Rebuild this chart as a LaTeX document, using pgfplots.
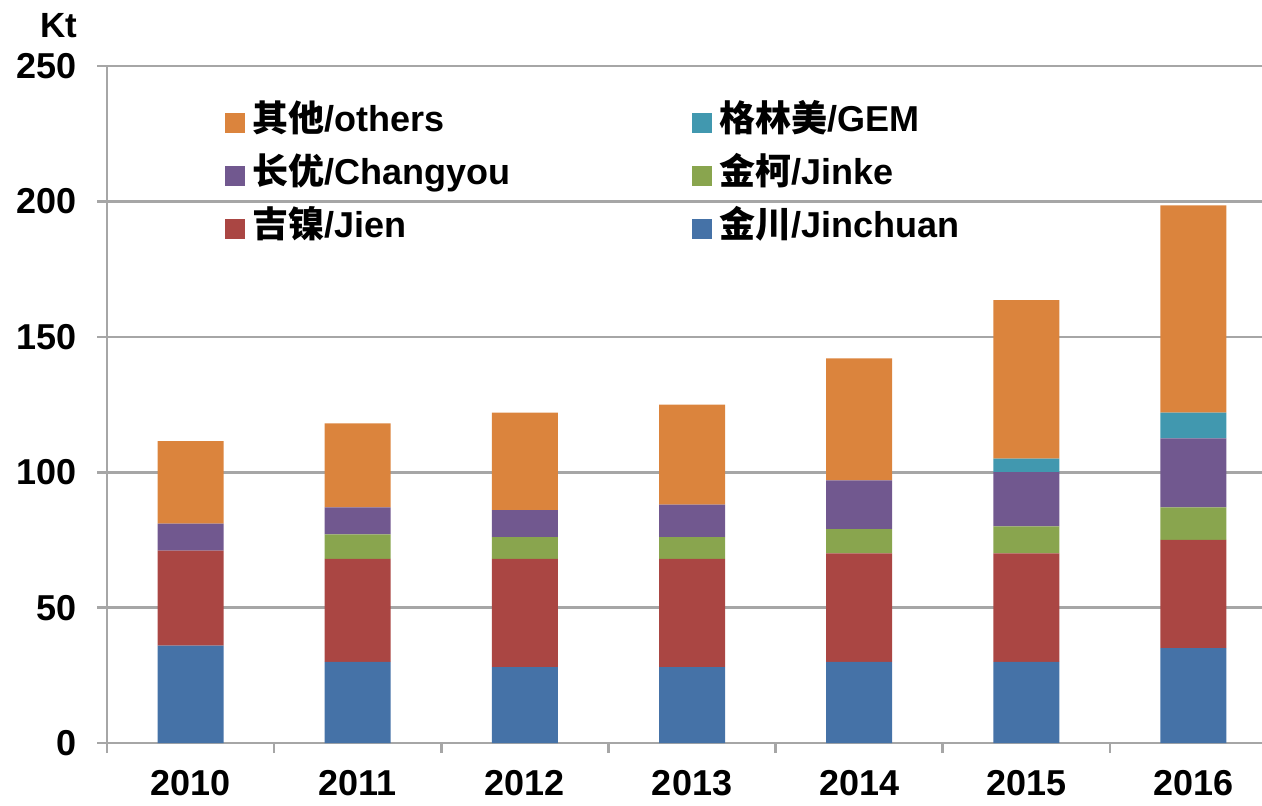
\documentclass[border=0pt]{standalone}
\usepackage{fontspec}
\setmainfont{Liberation Sans}
\newfontfamily\cjk{Noto Sans CJK SC}
\usepackage{pgfplots}
\usepackage{pgfplotstable}
\pgfplotsset{compat=1.18}

\definecolor{cJinchuan}{HTML}{4572A7}
\definecolor{cJien}{HTML}{AA4643}
\definecolor{cJinke}{HTML}{89A54E}
\definecolor{cChangyou}{HTML}{71588F}
\definecolor{cGEM}{HTML}{4198AF}
\definecolor{cOthers}{HTML}{DB843D}
\definecolor{gridgray}{HTML}{A6A6A6}

% Kt, by producer and year
\pgfplotstableread{
x  jinchuan jien jinke changyou gem  others
0  36       35   0     10       0    30.5
1  30       38   9     10       0    31
2  28       40   8     10       0    36
3  28       40   8     12       0    37
4  30       40   9     18       0    45
5  30       40   10    20       5    58.5
6  35       40   12    25.5     9.5  76.5
}\prod

\newcommand{\lgd}[2]{\makebox[219.5pt][l]{{\cjk\bfseries #1}\bfseries/#2}}

\begin{document}
\begin{tikzpicture}
\path[use as bounding box] (0,0) rectangle (631pt,402.5pt);
\begin{axis}[
    at={(53.5pt,31pt)}, anchor=south west,
    scale only axis, width=577.5pt, height=338.5pt,
    ybar stacked, bar width=33pt,
    xmin=-0.5, xmax=6.41, ymin=0, ymax=250,
    axis x line*=bottom, axis y line*=left,
    axis line style={gridgray, line width=1.3pt},
    ymajorgrids, grid style={gridgray, line width=1.3pt},
    ytick={0,50,...,250},
    xtick={0,...,6},
    xticklabels={2010,2011,2012,2013,2014,2015,2016},
    minor xtick={-0.5,0.5,...,5.5},
    tick align=outside,
    major x tick style={draw=none},
    minor tick length=5pt, major tick length=5pt,
    every tick/.style={gridgray, line width=1.3pt},
    tick label style={font=\fontsize{18}{20}\selectfont\bfseries, black},
    /pgf/number format/assume math mode=true,
    xticklabel style={yshift=-5pt},
    yticklabel style={xshift=-6.5pt},
    ylabel={\fontsize{17.5}{20}\selectfont\bfseries Kt},
    ylabel style={rotate=-90, at={(rel axis cs:0,1)}, anchor=base east, xshift=-11.5pt, yshift=14.5pt},
    legend columns=2,
    reverse legend,
    legend style={draw=none, fill=none, inner sep=0pt, outer sep=0pt,
        at={(0.102,0.942)}, anchor=north west,
        font=\fontsize{18}{20}\selectfont,
        nodes={inner sep=0pt, text height=13pt, text depth=4pt},
        row sep=9.5pt, column sep=0pt,
        /tikz/every odd column/.style={column sep=4pt},
        /tikz/every even column/.style={column sep=0pt}},
    legend cell align=left,
    legend image code/.code={\fill[#1, draw=none] (0pt,-5.5pt) rectangle (10pt,4.5pt);},
]
\addplot[fill=cJinchuan, draw=none] table[x=x, y=jinchuan] {\prod};
\addlegendentry{\lgd{金川}{Jinchuan}}
\addplot[fill=cJien, draw=none] table[x=x, y=jien] {\prod};
\addlegendentry{\lgd{吉镍}{Jien}}
\addplot[fill=cJinke, draw=none] table[x=x, y=jinke] {\prod};
\addlegendentry{\lgd{金柯}{Jinke}}
\addplot[fill=cChangyou, draw=none] table[x=x, y=changyou] {\prod};
\addlegendentry{\lgd{长优}{Changyou}}
\addplot[fill=cGEM, draw=none] table[x=x, y=gem] {\prod};
\addlegendentry{\lgd{格林美}{GEM}}
\addplot[fill=cOthers, draw=none] table[x=x, y=others] {\prod};
\addlegendentry{\lgd{其他}{others}}
\end{axis}
\end{tikzpicture}
\end{document}
